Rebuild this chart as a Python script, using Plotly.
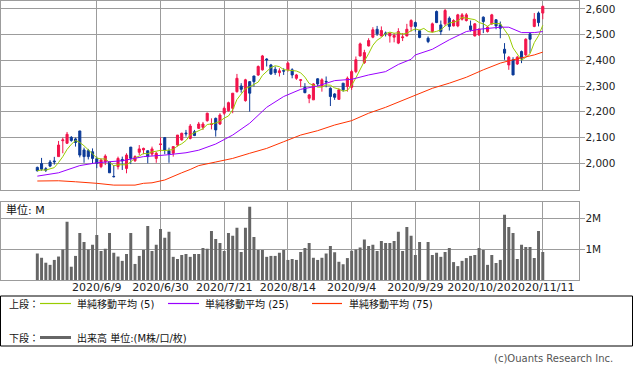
import plotly.graph_objects as go
import pandas as pd

W, H = 633, 373

# ---- trading-day slots (2020/10/1 is a slot with no trading: TSE halt) ----
holidays = ['2020-07-23', '2020-07-24', '2020-08-10', '2020-09-21', '2020-09-22', '2020-11-03']
days = [d for d in pd.bdate_range('2020-05-20', '2020-11-11') if d.strftime('%Y-%m-%d') not in holidays]
dates = [f"{d.year}/{d.month}/{d.day}" for d in days]

tick_labels = ['2020/6/9', '2020/6/30', '2020/7/21', '2020/8/14',
               '2020/9/4', '2020/9/29', '2020/10/20', '2020/11/11']

opens = [1983, 1998, 1978, 2004, 2008, 2025, 2087, 2077, 2100, 2094,
         2125, 2051, 2048, 2044, 2017, 1986, 2005, 2004, 1948, 1986,
         2014, 1979, 2062, 2009, 2042, 2051, 2048, 2035, 2018, 2072,
         2099, 2048, 2038, 2070, 2090, 2117, 2096, 2122, 2135, 2139,
         2165, 2150, 2174, 2152, 2194, 2204, 2213, 2278, 2300, 2243,
         2317, 2339, 2343, 2363, 2405, 2382, 2365, 2352, 2360, 2363,
         2363, 2330, 2322, 2295, 2252, 2246, 2328, 2300, 2318, 2291,
         2269, 2248, 2311, 2298, 2295, 2356, 2417, 2391, 2456, 2490,
         2521, 2495, 2506, 2495, 2490, 2467, 2488, 2495, 2532, 2547,
         2515, None, 2486, 2512, 2590, 2538, 2542, 2564, 2534, 2534,
         2560, 2555, 2534, 2495, 2499, 2568, 2512, 2542, 2558, 2538,
         2443, 2382, 2402, 2386, 2434, 2421, 2503, 2532, 2584, 2584]
highs = [1986, 2020, 1984, 2012, 2024, 2086, 2099, 2121, 2105, 2099,
         2125, 2060, 2055, 2057, 2025, 2018, 2034, 2004, 1992, 2025,
         2025, 2038, 2062, 2030, 2070, 2060, 2048, 2064, 2044, 2100,
         2099, 2060, 2064, 2109, 2118, 2129, 2152, 2129, 2160, 2160,
         2196, 2174, 2177, 2194, 2220, 2239, 2272, 2347, 2311, 2328,
         2317, 2339, 2380, 2421, 2408, 2386, 2376, 2369, 2369, 2395,
         2369, 2347, 2326, 2311, 2269, 2311, 2330, 2330, 2337, 2295,
         2272, 2291, 2311, 2337, 2363, 2415, 2469, 2441, 2486, 2529,
         2534, 2532, 2512, 2506, 2506, 2525, 2506, 2542, 2560, 2551,
         2519, None, 2493, 2547, 2594, 2555, 2600, 2571, 2560, 2581,
         2584, 2584, 2555, 2545, 2525, 2571, 2534, 2581, 2560, 2551,
         2467, 2417, 2412, 2417, 2438, 2486, 2506, 2584, 2590, 2613]
lows = [1967, 1970, 1965, 1984, 1994, 2025, 2038, 2074, 2083, 2064,
        2022, 2001, 2014, 1999, 1980, 1980, 1992, 1962, 1944, 1975,
        1973, 1960, 1996, 2004, 2031, 2034, 1999, 2027, 2001, 2044,
        2034, 2001, 2025, 2064, 2087, 2103, 2092, 2105, 2133, 2129,
        2161, 2131, 2103, 2148, 2187, 2200, 2194, 2274, 2274, 2239,
        2200, 2298, 2339, 2360, 2376, 2343, 2343, 2337, 2343, 2356,
        2330, 2324, 2295, 2272, 2233, 2246, 2300, 2278, 2295, 2222,
        2246, 2246, 2278, 2278, 2285, 2350, 2415, 2386, 2454, 2486,
        2495, 2493, 2493, 2469, 2470, 2463, 2475, 2493, 2512, 2512,
        2486, None, 2467, 2508, 2545, 2499, 2534, 2516, 2532, 2529,
        2555, 2551, 2512, 2493, 2495, 2506, 2508, 2538, 2521, 2486,
        2402, 2363, 2343, 2382, 2389, 2417, 2428, 2529, 2532, 2560]
closes = [1970, 1976, 1972, 1988, 2005, 2070, 2090, 2112, 2088, 2080,
          2031, 2025, 2025, 2018, 1999, 2012, 2027, 1962, 1947, 2018,
          2008, 2031, 2018, 2025, 2055, 2057, 2025, 2055, 2038, 2074,
          2051, 2035, 2064, 2109, 2116, 2114, 2144, 2107, 2152, 2152,
          2194, 2152, 2129, 2187, 2213, 2235, 2272, 2330, 2287, 2324,
          2272, 2317, 2376, 2417, 2402, 2347, 2352, 2359, 2358, 2389,
          2343, 2343, 2324, 2274, 2265, 2308, 2308, 2324, 2316, 2259,
          2256, 2285, 2285, 2330, 2356, 2402, 2464, 2430, 2477, 2519,
          2503, 2516, 2505, 2506, 2497, 2512, 2491, 2521, 2555, 2532,
          2489, None, 2473, 2542, 2547, 2512, 2594, 2532, 2555, 2577,
          2577, 2577, 2519, 2542, 2521, 2551, 2529, 2577, 2534, 2525,
          2428, 2412, 2343, 2412, 2408, 2482, 2482, 2560, 2547, 2610]

# volume in millions of shares
volume_m = [0.86, 0.72, 0.56, 0.49, 0.65, 0.76, 0.99, 1.89, 0.43, 0.78,
            1.52, 1.23, 0.99, 1.14, 1.46, 0.94, 1.01, 1.52, 0.88, 0.76,
            0.62, 0.84, 1.52, 0.52, 0.78, 0.97, 1.75, 0.94, 1.14, 1.65,
            1.37, 1.56, 0.75, 0.68, 0.81, 0.84, 0.75, 0.84, 0.84, 1.04,
            1.01, 1.59, 1.33, 1.20, 0.94, 1.52, 1.43, 1.69, 0.91, 1.69,
            2.37, 1.39, 0.97, 0.97, 0.75, 0.78, 0.78, 0.88, 0.97, 0.65,
            0.68, 0.65, 0.91, 1.04, 1.20, 0.72, 0.65, 0.72, 0.86, 1.10,
            0.90, 0.59, 0.51, 0.71, 0.95, 0.99, 1.05, 1.31, 1.10, 1.14,
            0.94, 1.26, 1.20, 1.20, 1.26, 1.56, 0.94, 1.72, 1.43, 0.81,
            1.23, None, 1.23, 0.81, 0.88, 0.75, 0.91, 1.04, 0.58, 0.45,
            0.62, 0.71, 0.78, 0.81, 1.04, 0.97, 0.49, 0.81, 0.55, 0.65,
            2.11, 1.72, 1.52, 0.68, 1.14, 1.07, 1.07, 0.71, 1.59, 0.91]

# moving averages (slot index, value)
ma25_idx = [0, 5, 10, 14, 20, 25, 30, 35, 38, 42, 46, 50, 54, 58, 62, 66, 70, 74,
            78, 82, 85, 88, 89, 93, 97, 101, 104, 106, 109, 111, 112, 114, 117, 119]
ma25_val = [1949, 1962, 1990, 2001, 2009, 2025, 2031, 2040, 2050, 2074, 2109, 2155,
            2217, 2259, 2287, 2300, 2321, 2326, 2343, 2356, 2384, 2404, 2421, 2443,
            2480, 2512, 2521, 2525, 2529, 2529, 2521, 2508, 2508, 2512]
ma75_idx = [0, 5, 9, 12, 14, 18, 23, 25, 27, 30, 32, 34, 36, 38, 42, 46, 50, 54,
            58, 62, 66, 70, 74, 78, 82, 85, 89, 93, 97, 101, 105, 109, 111, 114, 117, 119]
ma75_val = [1930, 1931, 1927, 1925, 1921, 1914, 1914, 1921, 1923, 1934, 1949, 1962,
            1975, 1990, 2004, 2018, 2038, 2057, 2083, 2109, 2126, 2148, 2165, 2194,
            2217, 2237, 2265, 2291, 2311, 2334, 2363, 2389, 2398, 2408, 2421, 2432]

price_ticks = [2000, 2100, 2200, 2300, 2400, 2500, 2600]
vol_ticks = [1, 2]
vol_tick_text = ['1M', '2M']

ma5 = pd.Series(closes, dtype='float').rolling(5, min_periods=1).mean().tolist()

UP, DOWN = '#f2144b', '#0b3a97'
C5, C25, C75 = '#99cc00', '#9900ff', '#ff3300'
GRID = '#9c9c9c'
FONT = 'DejaVu Sans, Noto Sans CJK JP, sans-serif'


def fx(x):
    return x / W


def fy(y):
    return 1 - y / H


fig = go.Figure()
fig.add_trace(go.Candlestick(
    x=dates, open=opens, high=highs, low=lows, close=closes,
    increasing=dict(line=dict(color=UP, width=1), fillcolor=UP),
    decreasing=dict(line=dict(color=DOWN, width=1), fillcolor=DOWN),
    whiskerwidth=0, xaxis='x', yaxis='y', showlegend=False, hoverinfo='skip'))
fig.add_trace(go.Scatter(x=dates, y=ma5, mode='lines', line=dict(color=C5, width=1),
                         xaxis='x', yaxis='y', showlegend=False))
fig.add_trace(go.Scatter(x=[dates[i] for i in ma25_idx], y=ma25_val, mode='lines',
                         line=dict(color=C25, width=1), xaxis='x', yaxis='y', showlegend=False))
fig.add_trace(go.Scatter(x=[dates[i] for i in ma75_idx], y=ma75_val, mode='lines',
                         line=dict(color=C75, width=1), xaxis='x', yaxis='y', showlegend=False))
fig.add_trace(go.Bar(x=dates, y=volume_m, marker=dict(color='#666666', line=dict(width=0)),
                     xaxis='x2', yaxis='y2', showlegend=False))

tickpos = [dates.index(t) for t in tick_labels]
xcommon = dict(type='category', categoryorder='array', categoryarray=dates,
               range=[-8.55, 127.6], domain=[fx(1), fx(579.3)],
               tickmode='array', tickvals=tickpos, ticktext=tick_labels,
               showgrid=True, gridcolor=GRID, gridwidth=1,
               showline=True, linecolor=GRID, linewidth=1, mirror=True,
               ticks='', ticklen=0, zeroline=False, fixedrange=True, automargin=False,
               tickangle=0)

ycommon = dict(side='right', tickmode='array', ticks='outside', ticklen=5, tickcolor=GRID,
               showgrid=True, gridcolor=GRID, showline=True, linecolor=GRID,
               mirror=True, zeroline=False, automargin=False, ticklabelstandoff=-2,
               fixedrange=True, tickfont=dict(size=10.5, color='#222222'))

fig.update_layout(
    width=W, height=H, margin=dict(l=0, r=0, t=0, b=0, autoexpand=False),
    paper_bgcolor='white', plot_bgcolor='white',
    font=dict(family=FONT, size=11, color='#333333'),
    bargap=0.3, boxgap=0.3, hovermode=False,
    xaxis=dict(xcommon, anchor='y', showticklabels=False, rangeslider=dict(visible=False)),
    xaxis2=dict(xcommon, anchor='y2', showticklabels=True, ticklabelstandoff=-3,
                tickfont=dict(size=11, color='#222222')),
    yaxis=dict(ycommon, domain=[fy(190), fy(1)], range=[1895, 2631],
               tickvals=price_ticks, ticktext=[f"{v:,}" for v in price_ticks]),
    yaxis2=dict(ycommon, domain=[fy(280), fy(202)], range=[0, 2.526],
                tickvals=vol_ticks, ticktext=vol_tick_text),
)

ann = []
shapes = []


def text(x, y, s, size=10, anchor='left', color='#111111'):
    ann.append(dict(x=fx(x), y=fy(y), xref='paper', yref='paper', text=s, showarrow=False,
                    xanchor=anchor, yanchor='middle', align=anchor, borderpad=0,
                    font=dict(size=size, color=color, family=FONT)))


def hline(x0, x1, y, color, width):
    shapes.append(dict(type='line', xref='paper', yref='paper', x0=fx(x0), x1=fx(x1),
                       y0=fy(y), y1=fy(y), line=dict(color=color, width=width)))


text(5, 210, '単位: M', size=11)
shapes.append(dict(type='rect', xref='paper', yref='paper', x0=fx(0.5), x1=fx(632.5),
                   y0=fy(296), y1=fy(346), line=dict(color='#000000', width=1)))
text(8, 303.5, '上段：')
hline(40, 71, 303.5, C5, 1.2)
text(76, 303.5, '単純移動平均 (5)')
hline(168, 199, 303.5, C25, 1.2)
text(204, 303.5, '単純移動平均 (25)')
hline(312, 342, 303.5, C75, 1.2)
text(348, 303.5, '単純移動平均 (75)')
text(8, 337.5, '下段：')
hline(40, 71, 337.5, '#666666', 3)
text(76, 337.5, '出来高 単位:(M株/口/枚)')
text(614, 358, '(c)Ouants Research Inc.', size=10, anchor='right', color='#555555')

fig.update_layout(annotations=ann, shapes=shapes)
fig.write_html('out.html', config={'displayModeBar': False, 'staticPlot': True},
               post_script="document.body.style.margin='0px';")
